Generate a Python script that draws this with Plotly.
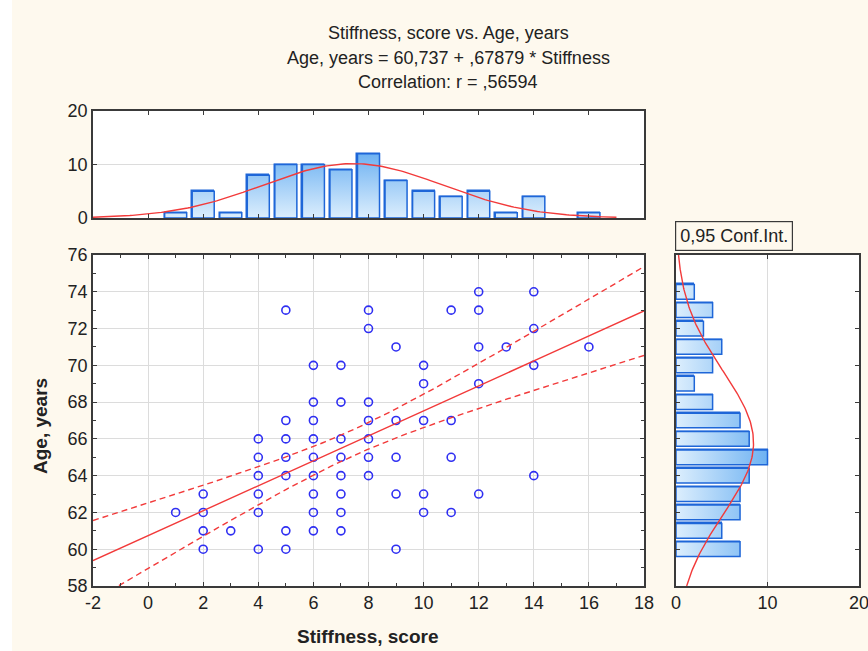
import numpy as np
import plotly.graph_objects as go

# ---------------- data ----------------
stiff_vals = [1, 2, 3, 4, 5, 6, 7, 8, 9, 10, 11, 12, 13, 14, 16]
stiff_counts = [1, 5, 1, 8, 10, 10, 9, 12, 7, 5, 4, 5, 1, 4, 1]

age_vals = [60, 61, 62, 63, 64, 65, 66, 67, 68, 69, 70, 71, 72, 73, 74]
age_counts = [7, 5, 7, 7, 8, 10, 8, 7, 4, 2, 4, 5, 3, 4, 2]

pt_stiff = ([1] + [2] * 4 + [3] + [4] * 6 + [5] * 7 + [6] * 9 + [7] * 8 + [8] * 7
            + [9] * 5 + [10] * 5 + [11] * 4 + [12] * 5 + [13] + [14] * 4 + [16])
pt_age = ([62]
          + [63, 62, 61, 60]
          + [61]
          + [66, 65, 64, 63, 62, 60]
          + [73, 67, 66, 65, 64, 61, 60]
          + [70, 68, 67, 66, 65, 64, 63, 62, 61]
          + [70, 68, 66, 65, 64, 63, 62, 61]
          + [73, 72, 68, 67, 66, 65, 64]
          + [71, 67, 65, 63, 60]
          + [70, 69, 67, 63, 62]
          + [73, 67, 65, 62]
          + [74, 73, 71, 69, 63]
          + [71]
          + [74, 72, 70, 64]
          + [71])

x_ticks = [-2, 0, 2, 4, 6, 8, 10, 12, 14, 16, 18]
y_ticks = [58, 60, 62, 64, 66, 68, 70, 72, 74, 76]

intercept = 60.737
slope = 0.67879
r_corr = 0.56594
conf_t = 1.99  # t(0.975, n-2)

title_lines = ["Stiffness, score vs. Age, years",
               "Age, years = 60,737 + ,67879 * Stiffness",
               "Correlation: r = ,56594"]

# ---------------- statistics from the marginal counts ----------------
sv = np.array(stiff_vals, float); sc = np.array(stiff_counts, float)
av = np.array(age_vals, float); ac = np.array(age_counts, float)
n = sc.sum()
x_mean = (sv * sc).sum() / n
x_sd = np.sqrt(((sv - x_mean) ** 2 * sc).sum() / (n - 1))
a_mean = (av * ac).sum() / n
a_sd = np.sqrt(((av - a_mean) ** 2 * ac).sum() / (n - 1))

xs = np.linspace(-2, 18, 200)
yhat = intercept + slope * xs
s_res = a_sd * np.sqrt(1 - r_corr ** 2) * np.sqrt((n - 1) / (n - 2))
Sxx = (n - 1) * x_sd ** 2
half = conf_t * s_res * np.sqrt(1 / n + (xs - x_mean) ** 2 / Sxx)

xn = np.linspace(-2, 17, 200)
top_curve = n * 1.0 / (x_sd * np.sqrt(2 * np.pi)) * np.exp(-0.5 * ((xn - x_mean) / x_sd) ** 2)
yn = np.linspace(58, 76, 200)
right_curve = n * 1.0 / (a_sd * np.sqrt(2 * np.pi)) * np.exp(-0.5 * ((yn - a_mean) / a_sd) ** 2)

# ---------------- figure ----------------
W, H = 868, 651
def px(p): return p / W
def py(p): return 1 - p / H

RED = "#F23A3A"
BLUE_PT = "#2F2FF2"
BAR_FILL = "#A9D3FA"
BAR_LINE = "#1E66D8"
GRAD = [[0, "#DCEEFD"], [1, "#6EB2F2"]]
FRAME = "#3A3A3A"
GRID = "#DCDCDC"
BG = "#FEF9EE"
FONT = "Liberation Sans, Arial, sans-serif"
BW = 0.8  # bar width

def bar_outline(centers, counts, horizontal=False):
    a, b = [], []
    for c, h in zip(centers, counts):
        lo, hi = c - BW / 2, c + BW / 2
        a += [lo, lo, hi, hi, lo, None]
        b += [0, h, h, 0, 0, None]
    return (b, a) if horizontal else (a, b)

fig = go.Figure()

# scatter
fig.add_trace(go.Scatter(x=pt_stiff, y=pt_age, mode="markers",
                         marker=dict(symbol="circle-open", size=8, color=BLUE_PT,
                                     line=dict(width=1.6, color=BLUE_PT)),
                         xaxis="x", yaxis="y", showlegend=False, hoverinfo="skip"))
# regression + CI
fig.add_trace(go.Scatter(x=xs, y=yhat, mode="lines", line=dict(color=RED, width=1.4),
                         xaxis="x", yaxis="y", showlegend=False, hoverinfo="skip"))
fig.add_trace(go.Scatter(x=xs, y=yhat + half, mode="lines",
                         line=dict(color=RED, width=1.4, dash="6px,4px"),
                         xaxis="x", yaxis="y", showlegend=False, hoverinfo="skip"))
fig.add_trace(go.Scatter(x=xs, y=yhat - half, mode="lines",
                         line=dict(color=RED, width=1.4, dash="6px,4px"),
                         xaxis="x", yaxis="y", showlegend=False, hoverinfo="skip"))

# top histogram
fig.add_trace(go.Bar(x=stiff_vals, y=stiff_counts, width=BW,
                     marker=dict(color=BAR_FILL, line=dict(color=BAR_LINE, width=1.5)),
                     xaxis="x2", yaxis="y2", showlegend=False, hoverinfo="skip"))
tx, ty = bar_outline(stiff_vals, stiff_counts)
fig.add_trace(go.Scatter(x=tx, y=ty, mode="lines", fill="toself",
                         fillgradient=dict(type="vertical", colorscale=GRAD, start=0, stop=12),
                         line=dict(color=BAR_LINE, width=1.5),
                         xaxis="x2", yaxis="y2", showlegend=False, hoverinfo="skip"))
fig.add_trace(go.Scatter(x=xn, y=top_curve, mode="lines", line=dict(color=RED, width=1.4),
                         xaxis="x2", yaxis="y2", showlegend=False, hoverinfo="skip"))

# right histogram
fig.add_trace(go.Bar(y=age_vals, x=age_counts, width=BW, orientation="h",
                     marker=dict(color=BAR_FILL, line=dict(color=BAR_LINE, width=1.5)),
                     xaxis="x3", yaxis="y3", showlegend=False, hoverinfo="skip"))
rx, ry = bar_outline(age_vals, age_counts, horizontal=True)
fig.add_trace(go.Scatter(x=rx, y=ry, mode="lines", fill="toself",
                         fillgradient=dict(type="horizontal", colorscale=GRAD, start=0, stop=10),
                         line=dict(color=BAR_LINE, width=1.5),
                         xaxis="x3", yaxis="y3", showlegend=False, hoverinfo="skip"))
fig.add_trace(go.Scatter(x=right_curve, y=yn, mode="lines", line=dict(color=RED, width=1.4),
                         xaxis="x3", yaxis="y3", showlegend=False, hoverinfo="skip"))

axis_common = dict(showline=True, linecolor=FRAME, linewidth=1.5, mirror="allticks",
                   ticks="inside", ticklen=4, tickcolor=FRAME, zeroline=False,
                   gridcolor=GRID, gridwidth=1, automargin=False,
                   tickfont=dict(family=FONT, size=18, color="#222222"))

main_x = [px(93), px(644)]
main_y = [py(586), py(255)]
top_y = [py(218), py(111)]
right_x = [px(676), px(859)]

fig.update_layout(
    template="none",
    width=W, height=H,
    paper_bgcolor=BG, plot_bgcolor="white",
    margin=dict(l=0, r=0, t=0, b=0, pad=0),
    bargap=0, hovermode=False,
    xaxis=dict(domain=main_x, range=[-2, 18], tickmode="array", tickvals=x_ticks,
               ticktext=[str(v) for v in x_ticks], showgrid=True,
               minor=dict(dtick=1, tick0=0, ticks="inside", ticklen=3, tickcolor=FRAME,
                          showgrid=False),
               anchor="y", **axis_common),
    yaxis=dict(domain=main_y, range=[58, 76], tickmode="array", tickvals=y_ticks,
               ticktext=[str(v) for v in y_ticks], showgrid=True,
               minor=dict(dtick=1, tick0=58, ticks="inside", ticklen=3, tickcolor=FRAME,
                          showgrid=False),
               anchor="x", **axis_common),
    xaxis2=dict(domain=main_x, range=[-2, 18], dtick=2, tick0=0, showgrid=False,
                showticklabels=False, anchor="y2", **axis_common),
    yaxis2=dict(domain=top_y, range=[0, 20], dtick=10, showgrid=True, anchor="x2",
                **axis_common),
    xaxis3=dict(domain=right_x, range=[0, 20], dtick=10, showgrid=True, anchor="y3",
                ticklabeloverflow="allow", **axis_common),
    yaxis3=dict(domain=main_y, range=[58, 76], dtick=2, tick0=58, showgrid=False,
                showticklabels=False, anchor="x3", **axis_common),
)

# white strip at left edge of the picture
fig.add_shape(type="rect", xref="paper", yref="paper", x0=0, x1=px(12), y0=0, y1=1,
              fillcolor="white", line=dict(width=0), layer="below")

# title lines
for txt, yp in zip(title_lines, [33, 58, 82]):
    fig.add_annotation(text=txt, xref="paper", yref="paper", x=px(448), y=py(yp),
                       xanchor="center", yanchor="middle", showarrow=False,
                       font=dict(family=FONT, size=18, color="#222222"))

# axis titles
fig.add_annotation(text="<b>Stiffness, score</b>", xref="paper", yref="paper",
                   x=px(368), y=py(636), xanchor="center", yanchor="middle", showarrow=False,
                   font=dict(family=FONT, size=19, color="#222222"))
fig.add_annotation(text="<b>Age, years</b>", xref="paper", yref="paper",
                   x=px(40), y=py(426), xanchor="center", yanchor="middle", showarrow=False,
                   textangle=-90, font=dict(family=FONT, size=19, color="#222222"))

# confidence interval label box
fig.add_annotation(text="0,95 Conf.Int.", xref="paper", yref="paper",
                   x=px(675), y=py(221), xanchor="left", yanchor="top", showarrow=False,
                   bordercolor=FRAME, borderwidth=1.2, borderpad=4, bgcolor=BG,
                   font=dict(family=FONT, size=18, color="#222222"))

fig.write_html("out.html", config={"displayModeBar": False},
               post_script="document.body.style.margin='0';")
